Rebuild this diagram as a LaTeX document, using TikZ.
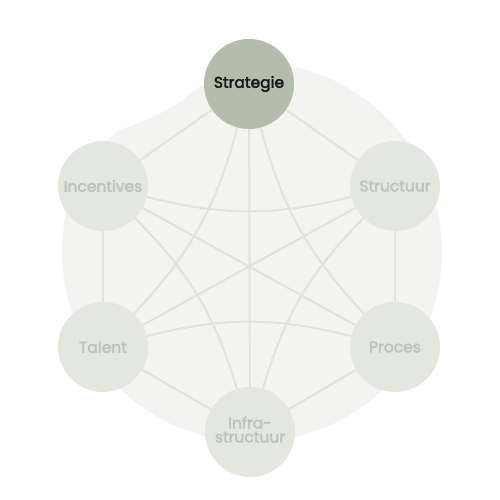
\documentclass[tikz,border=0pt]{standalone}
\usepackage{fontspec}
\setmainfont{Poppins}
\newfontfamily\hubfont{Poppins}[UprightFeatures={FakeBold=2.5}]
\definecolor{blobc}{HTML}{F3F3F1}
\definecolor{nodec}{HTML}{E4E6E0}
\definecolor{mainc}{HTML}{B4BCAB}
\definecolor{linec}{HTML}{E1E2DD}
\definecolor{txtc}{HTML}{BFC2BC}
\definecolor{txtmain}{HTML}{161614}
\pgfdeclarelayer{bg}
\pgfdeclarelayer{edges}
\pgfsetlayers{bg,edges,main}
\tikzset{
  hub/.style={circle, fill=nodec, minimum size=90pt, inner sep=0pt, text=txtc,
    font=\hubfont\fontsize{15.5}{17}\selectfont, align=center},
  hubmain/.style={hub, fill=mainc, text=txtmain},
  link/.style={draw=linec, line width=2pt},
}
\begin{document}
\begin{tikzpicture}[x=1pt,y=1pt]
\useasboundingbox (0,0) rectangle (500,500);
\node[hubmain] (S) at (249,416) {Strategie};
\node[hub] (Inc) at (103,314) {Incentives};
\node[hub] (Str) at (395,314) {Structuur};
\node[hub] (T) at (103,153) {Talent};
\node[hub] (P) at (395,153) {Proces};
\node[hub] (I) at (250,68) {\raisebox{6pt}{\begin{tabular}{@{}c@{}}Infra-\\[-3pt]structuur\end{tabular}}};
\begin{pgfonlayer}{bg}
\fill[blobc] (252,248) ++(90:190) arc[start angle=90, end angle=-205.5, radius=190]
  -- plot[smooth, tension=0.6] coordinates {(80,330) (113,365) (133,375) (150,382) (167,390) (180,398) (200,413) (252,438)} -- cycle;
\end{pgfonlayer}
\begin{pgfonlayer}{edges}
\draw[link] (S) -- (Inc);
\draw[link] (S) -- (Str);
\draw[link] (Inc) -- (T);
\draw[link] (Str) -- (P);
\draw[link] (T) -- (I);
\draw[link] (P) -- (I);
\draw[link] (S) -- (I);
\draw[link] (Inc) -- (P);
\draw[link] (Str) -- (T);
\draw[link] (S) to[bend left=14] (T);
\draw[link] (Inc) to[bend left=14] (I);
\draw[link] (T) to[bend left=14] (P);
\draw[link] (I) to[bend left=14] (Str);
\draw[link] (P) to[bend left=14] (S);
\draw[link] (Str) to[bend left=14] (Inc);
\end{pgfonlayer}
\end{tikzpicture}
\end{document}
